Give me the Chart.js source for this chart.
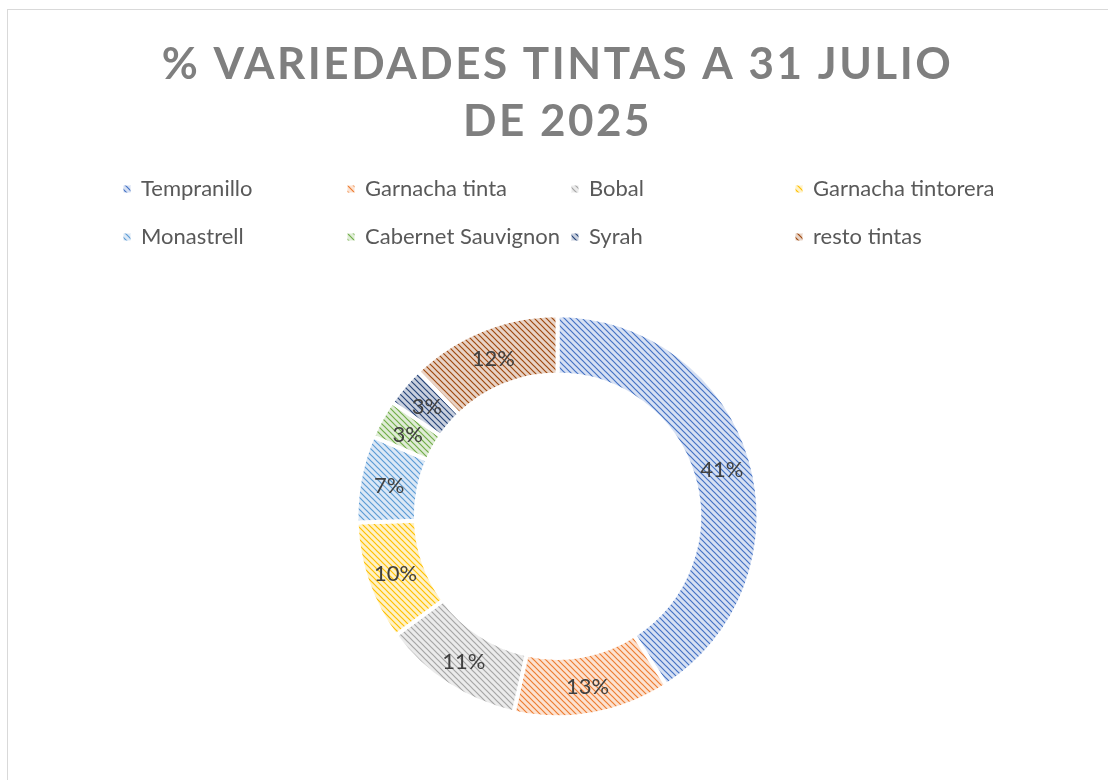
<!DOCTYPE html>
<html>
<head>
<meta charset="utf-8">
<script src="https://cdn.jsdelivr.net/npm/chart.js@4"></script>
<style>
  html, body { margin: 0; padding: 0; background: #fff; }
  #wrap { position: relative; width: 1108px; height: 780px; overflow: hidden; }
  #marco { position: absolute; left: 7px; top: 9px; width: 1130px; height: 800px; border: 1px solid #d9d9d9; box-sizing: border-box; }
  #grafico { position: absolute; left: 0; top: 0; }
</style>
</head>
<body>
<div id="wrap">
  <div id="marco"></div>
  <canvas id="grafico" width="1108" height="780"></canvas>
</div>
<script>
const titulo = ['% VARIEDADES TINTAS A 31 JULIO', 'DE 2025'];
const variedades = ['Tempranillo', 'Garnacha tinta', 'Bobal', 'Garnacha tintorera',
  'Monastrell', 'Cabernet Sauvignon', 'Syrah', 'resto tintas'];
const porcentajes = [40.9, 12.6, 11.4, 9.6, 7.0, 3.1, 3.2, 12.2];
const coloresLinea = ['#4472c4', '#ed7d31', '#a5a5a5', '#ffc000', '#5b9bd5', '#70ad47', '#264478', '#9e480e'];
const coloresFondo = ['#d6e0f3', '#fce2d1', '#ebebeb', '#fff2c7', '#dbe8f6', '#dfecd6', '#c9d0de', '#e8d3c6'];

// trama diagonal tipo Excel
function trama(linea, fondo) {
  const s = 6;
  const c = document.createElement('canvas');
  c.width = s; c.height = s;
  const x = c.getContext('2d');
  x.fillStyle = fondo;
  x.fillRect(0, 0, s, s);
  x.strokeStyle = linea;
  x.lineWidth = 1.2;
  x.beginPath();
  for (const k of [-s, 0, s]) {
    x.moveTo(k - 1, -1);
    x.lineTo(k + s + 1, s + 1);
  }
  x.stroke();
  return x.createPattern(c, 'repeat');
}

const tramas = coloresLinea.map((c, i) => trama(c, coloresFondo[i]));

const espaciado = {
  id: 'espaciado',
  beforeDraw(chart) { chart.ctx.letterSpacing = '2.5px'; },
  beforeDatasetsDraw(chart) { chart.ctx.letterSpacing = '0px'; }
};

const etiquetas = {
  id: 'etiquetas',
  afterDatasetsDraw(chart) {
    const ctx = chart.ctx;
    const meta = chart.getDatasetMeta(0);
    ctx.save();
    ctx.font = '22px Lato';
    ctx.fillStyle = '#404040';
    ctx.textAlign = 'center';
    ctx.textBaseline = 'middle';
    meta.data.forEach((arco, i) => {
      const p = arco.tooltipPosition();
      ctx.fillText(Math.round(porcentajes[i]) + '%', p.x, p.y + 2);
    });
    ctx.restore();
  }
};

// leyenda en 4 columnas
const leyenda = {
  id: 'leyenda',
  afterDraw(chart) {
    const ctx = chart.ctx;
    ctx.save();
    ctx.font = '22px Lato';
    ctx.textBaseline = 'middle';
    variedades.forEach((nombre, i) => {
      const col = i % 4;
      const fila = Math.floor(i / 4);
      const x = 127 + col * 224;
      const y = 189 + fila * 48;
      ctx.fillStyle = tramas[i];
      ctx.fillRect(x - 3.5, y - 3.5, 7, 7);
      ctx.fillStyle = '#595959';
      ctx.fillText(nombre, x + 14, y);
    });
    ctx.restore();
  }
};

new Chart(document.getElementById('grafico'), {
  type: 'doughnut',
  data: {
    labels: variedades,
    datasets: [{
      data: porcentajes,
      backgroundColor: tramas,
      borderColor: '#ffffff',
      borderWidth: 4,
      radius: 201
    }]
  },
  options: {
    responsive: false,
    animation: false,
    events: [],
    cutout: '70.5%',
    layout: { padding: { left: 7, right: 0, top: 0, bottom: 0 } },
    plugins: {
      legend: { display: false },
      tooltip: { enabled: false },
      title: {
        display: true,
        text: titulo,
        color: '#7f7f7f',
        font: { family: 'Lato', size: 44, weight: 'bold', lineHeight: 1.3 },
        padding: { top: 36, bottom: 102 }
      }
    }
  },
  plugins: [espaciado, etiquetas, leyenda]
});
</script>
</body>
</html>
